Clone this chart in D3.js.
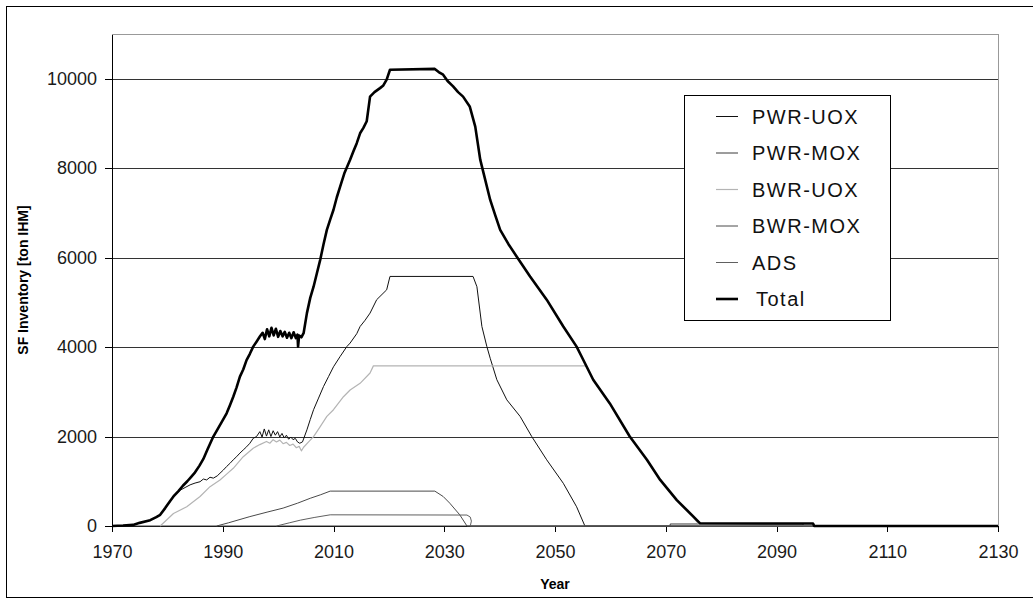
<!DOCTYPE html>
<html>
<head>
<meta charset="utf-8">
<script src="https://cdn.jsdelivr.net/npm/d3@7"></script>
<style>
  body { margin: 0; background: #fff; }
  svg { display: block; font-family: Arial, "Liberation Sans", sans-serif; }
</style>
</head>
<body>
<svg id="chart" width="1033" height="599"></svg>
<script>
// tick values
const xTicks = [1970, 1990, 2010, 2030, 2050, 2070, 2090, 2110, 2130];
const yTicks = [0, 2000, 4000, 6000, 8000, 10000];

// series, [year, ton IHM]
const pwrUox = [[1970,0],[1972,10],[1973.8,25],[1975,70],[1976.9,130],[1978.7,250],[1979.6,400],[1980.5,560],[1981.1,660],[1982.3,800],[1983.2,860],[1984.1,920],[1985,960],[1985.9,990],[1986.5,1050],[1987.1,1030],[1987.7,1090],[1988.3,1070],[1989,1120],[1989.5,1180],[1990.1,1250],[1990.7,1330],[1991.3,1400],[1991.9,1480],[1992.5,1550],[1993.1,1630],[1993.7,1700],[1994.3,1770],[1994.9,1850],[1995.5,1960],[1996.1,2000],[1996.7,2110],[1997.1,1990],[1997.5,2170],[1997.9,2010],[1998.3,2150],[1998.7,2000],[1999.1,2130],[1999.5,2030],[1999.9,2110],[2000.3,1990],[2000.7,2070],[2001.1,1970],[2001.5,2030],[2001.9,1940],[2002.3,1990],[2002.7,1930],[2003.1,1960],[2003.5,1880],[2003.9,1850],[2004.4,1880],[2005.2,2150],[2005.8,2380],[2006.4,2600],[2007.3,2860],[2008.2,3120],[2009.1,3340],[2010,3560],[2011.2,3790],[2012.4,4010],[2013,4090],[2014.2,4300],[2014.8,4460],[2015.7,4600],[2016.6,4760],[2017.8,5060],[2019.6,5280],[2020.2,5580],[2035.2,5580],[2035.9,5350],[2036.8,4460],[2037.7,4010],[2038.3,3750],[2039.5,3270],[2041.3,2820],[2043.7,2450],[2045.8,2000],[2048.5,1480],[2051.5,955],[2053.9,430],[2055.4,0],[2130,0]];

const pwrMox = [[1970,0],[2070.8,0],[2070.8,45],[2094.8,45],[2094.8,0],[2130,0]];

const bwrUox = [[1978.7,0],[1980,150],[1981.1,280],[1983.5,430],[1985.9,660],[1987.7,880],[1989.5,1030],[1990.7,1160],[1991.9,1290],[1993.7,1550],[1995.5,1740],[1996.7,1820],[1997.9,1890],[1998.5,1850],[1999.1,1930],[1999.7,1880],[2000.3,1920],[2000.9,1840],[2001.5,1870],[2002.1,1800],[2002.7,1830],[2003.3,1750],[2003.8,1780],[2004.2,1680],[2004.6,1760],[2005.8,1920],[2006.4,2000],[2007.6,2220],[2008.8,2450],[2010,2600],[2011.8,2890],[2013,3040],[2014.8,3190],[2016.6,3420],[2017.2,3580],[2055.6,3580],[2056.9,3270],[2059.9,2740],[2063.5,2000],[2066.6,1480],[2069,1030],[2072,560],[2075,180],[2076.2,10],[2096.6,10],[2096.8,0],[2130,0]];

const bwrMox = [[1988.9,0],[1991,70],[1994.9,210],[1998,310],[2000.9,400],[2003.5,510],[2005.8,620],[2007.7,700],[2009.4,780],[2028.3,780],[2029.8,660],[2031,510],[2032.8,250],[2034.1,0],[2130,0]];

const ads = [[1999.7,0],[2002,70],[2004,130],[2006.5,190],[2009.4,250],[2034.1,245],[2034.7,200],[2034.9,110],[2034.7,0],[2130,0]];

const total = [[1970,0],[1972,10],[1973.8,25],[1975,70],[1976.9,130],[1978,200],[1978.7,250],[1979.6,400],[1980.5,560],[1981.1,660],[1982,780],[1982.8,900],[1983.6,1000],[1984.3,1100],[1985,1200],[1985.8,1350],[1986.5,1500],[1987.2,1700],[1988.3,2000],[1989,2150],[1989.7,2300],[1990.7,2520],[1991.3,2700],[1991.9,2890],[1992.5,3100],[1993.1,3340],[1993.7,3500],[1994.3,3710],[1994.9,3850],[1995.5,4010],[1996.1,4120],[1996.7,4235],[1997.2,4320],[1997.6,4180],[1998,4400],[1998.4,4240],[1998.8,4430],[1999.2,4260],[1999.6,4410],[2000,4230],[2000.4,4360],[2000.8,4240],[2001.2,4340],[2001.6,4210],[2002,4320],[2002.4,4200],[2002.8,4330],[2003.2,4200],[2003.5,4280],[2003.6,4010],[2003.8,4260],[2004.2,4220],[2004.6,4310],[2005.2,4760],[2005.8,5100],[2006.4,5350],[2007,5650],[2007.6,5950],[2008.2,6300],[2008.8,6620],[2009.4,6850],[2010,7070],[2010.6,7350],[2011.2,7590],[2012,7900],[2013,8190],[2013.6,8380],[2014.2,8560],[2014.8,8780],[2015.4,8900],[2016,9050],[2016.6,9600],[2017.4,9700],[2018.4,9790],[2019,9850],[2019.6,9980],[2020.2,10200],[2028.3,10220],[2029,10150],[2029.8,10090],[2030.6,9950],[2031.6,9830],[2032.5,9700],[2033.4,9600],[2034.6,9380],[2035.6,8930],[2036.5,8190],[2037.1,7890],[2038.3,7290],[2039.2,6950],[2040.1,6620],[2041.6,6300],[2043.1,6020],[2045.5,5580],[2048.5,5060],[2051.5,4460],[2053.9,4010],[2054.8,3790],[2056.9,3270],[2059.9,2740],[2063.5,2000],[2066.6,1480],[2069,1030],[2072,580],[2075,210],[2076.2,60],[2096.6,55],[2096.8,0],[2130,0]];

const seriesNames = ["PWR-UOX", "PWR-MOX", "BWR-UOX", "BWR-MOX", "ADS", "Total"];
const seriesData = [pwrUox, pwrMox, bwrUox, bwrMox, ads, total];
const seriesColors = ["#111", "#3a3a3a", "#b4b4b4", "#4a4a4a", "#606060", "#000"];
const seriesWidths = [1, 1, 1.2, 1, 1, 2.6];

const svg = d3.select("#chart");
const plotLeft = 112, plotRight = 998, plotTop = 34, plotBottom = 526;

const x = d3.scaleLinear().domain([1970, 2130]).range([plotLeft, plotRight]);
const y = d3.scaleLinear().domain([0, 11000]).range([plotBottom, plotTop]);

// outer frame
svg.append("rect")
  .attr("x", 6.5).attr("y", 6.5)
  .attr("width", 1040).attr("height", 591)
  .attr("fill", "#fff").attr("stroke", "#000");

// plot area border (top/right grey)
svg.append("rect")
  .attr("x", plotLeft + 0.5).attr("y", plotTop + 0.5)
  .attr("width", plotRight - plotLeft).attr("height", plotBottom - plotTop)
  .attr("fill", "#fff").attr("stroke", "#999");

// gridlines
svg.append("g")
  .selectAll("line")
  .data(yTicks.filter(d => d > 0))
  .enter()
  .append("line")
  .attr("x1", plotLeft).attr("x2", plotRight)
  .attr("y1", d => Math.round(y(d)) + 0.5)
  .attr("y2", d => Math.round(y(d)) + 0.5)
  .attr("stroke", "#333")
  .attr("shape-rendering", "crispEdges");

// axes
const xAxis = svg.append("g")
  .attr("transform", "translate(0," + plotBottom + ")")
  .call(d3.axisBottom(x).tickValues(xTicks).tickFormat(d3.format("d"))
    .tickSize(6).tickSizeOuter(0).tickPadding(13));
const yAxis = svg.append("g")
  .attr("transform", "translate(" + plotLeft + ",0)")
  .call(d3.axisLeft(y).tickValues(yTicks).tickFormat(d3.format("d"))
    .tickSize(7).tickSizeOuter(0).tickPadding(8));

[xAxis, yAxis].forEach(function (a) {
  a.attr("font-family", null).attr("font-size", null);
  a.selectAll("text").style("font-size", "18px").attr("fill", "#1a1a1a");
  a.selectAll("line, path").attr("stroke", "#000").attr("shape-rendering", "crispEdges");
});

// series lines
const line = d3.line()
  .x(d => x(d[0]))
  .y(d => y(d[1]));

svg.append("g")
  .selectAll("path")
  .data(seriesData)
  .enter()
  .append("path")
  .attr("d", line)
  .attr("fill", "none")
  .attr("stroke", (d, i) => seriesColors[i])
  .attr("stroke-width", (d, i) => seriesWidths[i])
  .attr("stroke-linejoin", "round");

// axis titles
svg.append("text")
  .attr("x", 555).attr("y", 589)
  .attr("text-anchor", "middle")
  .style("font-size", "14px").style("font-weight", "bold")
  .text("Year");

svg.append("text")
  .attr("transform", "translate(28,280) rotate(-90)")
  .attr("text-anchor", "middle")
  .style("font-size", "14px").style("font-weight", "bold")
  .text("SF Inventory [ton IHM]");

// legend
const legend = svg.append("g");
legend.append("rect")
  .attr("x", 684.5).attr("y", 95.5)
  .attr("width", 206).attr("height", 225)
  .attr("fill", "#fff").attr("stroke", "#000");

const items = legend.selectAll("g.item")
  .data(seriesNames)
  .enter()
  .append("g")
  .attr("class", "item")
  .attr("transform", (d, i) => "translate(0," + (116.5 + i * 36.5) + ")");

items.append("line")
  .attr("x1", 716).attr("x2", 738)
  .attr("y1", 0).attr("y2", 0)
  .attr("stroke", (d, i) => seriesColors[i])
  .attr("stroke-width", (d, i) => seriesWidths[i]);

items.append("text")
  .attr("x", (d, i) => i === 5 ? 756 : 752)
  .attr("y", 7)
  .style("font-size", "20px")
  .style("letter-spacing", "1.5px")
  .attr("fill", "#111")
  .text(d => d);
</script>
</body>
</html>
